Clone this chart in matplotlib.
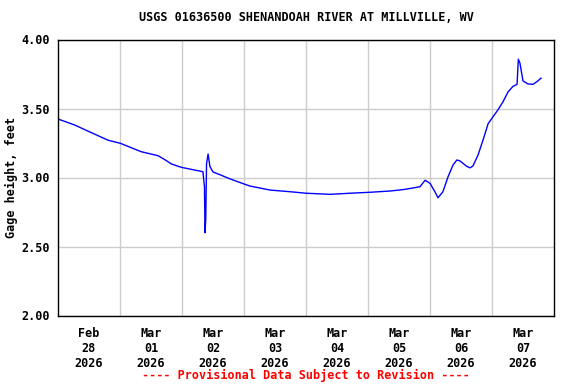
import matplotlib
matplotlib.use("Agg")
import matplotlib.pyplot as plt
import pandas as pd

# gage readings, hours after 2026-02-28 00:00
hours = [0.0, 6.5, 12.9, 19.4, 24.1, 32.2, 38.7, 41.3, 43.9, 47.7, 52.9, 56.1,
         56.7, 56.9, 57.2, 57.5, 58.1, 58.8, 60.0, 62.7, 66.6, 72.0, 74.3,
         82.1, 89.8, 96.0, 105.3, 113.0, 120.8, 128.5, 134.3, 140.1, 142.1, 144.0,
         145.9, 147.1, 149.0, 151.0, 152.9, 154.4, 155.6, 158.3, 159.5, 160.6,
         162.6, 164.5, 166.5, 168.4, 170.3, 172.3, 174.2, 176.1, 177.7, 178.2,
         178.8, 180.0, 181.9, 183.9, 185.4, 187.0]
gage = [3.424, 3.38, 3.325, 3.27, 3.248, 3.187, 3.158, 3.13, 3.098, 3.074, 3.054, 3.042,
        2.93, 2.60, 2.70, 3.10, 3.17, 3.08, 3.04, 3.02, 2.99, 2.953, 2.938,
        2.909, 2.897, 2.886, 2.878, 2.886, 2.893, 2.902, 2.914, 2.933, 2.98, 2.958,
        2.897, 2.853, 2.897, 3.006, 3.09, 3.127, 3.12, 3.08, 3.07, 3.083,
        3.163, 3.27, 3.39, 3.44, 3.49, 3.55, 3.62, 3.66, 3.675, 3.857,
        3.83, 3.70, 3.678, 3.675, 3.695, 3.72]

start = pd.Timestamp("2026-02-28")
end = pd.Timestamp("2026-03-08")
days = pd.date_range(start, end, freq="D")
yticks = [2.0, 2.5, 3.0, 3.5, 4.0]

times = start + pd.to_timedelta(hours, unit="h")

plt.rcParams['font.family'] = "DejaVu Sans Mono"
fs = 8.5

fig = plt.figure(figsize=(5.76, 3.84), dpi=100)
ax = fig.add_axes([58/576, 1 - 315.5/384, 496/576, 276/384])

ax.plot(times, gage, color="#0000ff", linewidth=1.0)

ax.set_xlim(start, end)
ax.set_ylim(2.0, 4.0)

# gridlines at midnight, labels at noon
ax.set_xticks(days[1:-1], minor=True)
noons = days[:-1] + pd.Timedelta(hours=12)
ax.set_xticks(noons)
ax.set_xticklabels([d.strftime("%b\n%d\n%Y") for d in noons], fontsize=fs,
                   fontweight="bold", linespacing=1.2)
ax.set_yticks(yticks)
ax.set_yticklabels(["%.2f" % v for v in yticks], fontsize=fs, fontweight="bold")

ax.grid(True, which="minor", axis="x", color="#cccccc", linewidth=1)
ax.grid(True, which="major", axis="y", color="#cccccc", linewidth=1)
ax.tick_params(which="both", length=0)
ax.tick_params(axis="x", pad=8)
ax.tick_params(axis="y", pad=6)
for s in ax.spines.values():
    s.set_color("black")
    s.set_linewidth(1)

ax.set_ylabel("Gage height, feet", fontsize=fs, fontweight="bold")
ax.yaxis.set_label_coords(-40/496, 0.5)
ax.set_title("USGS 01636500 SHENANDOAH RIVER AT MILLVILLE, WV", fontsize=fs,
             fontweight="bold", pad=13)

fig.text(306/576, 1 - 375/384, "---- Provisional Data Subject to Revision ----",
         color="#ff0000", fontsize=fs, fontweight="bold", ha="center", va="center")

plt.savefig("out.png", dpi=100)
